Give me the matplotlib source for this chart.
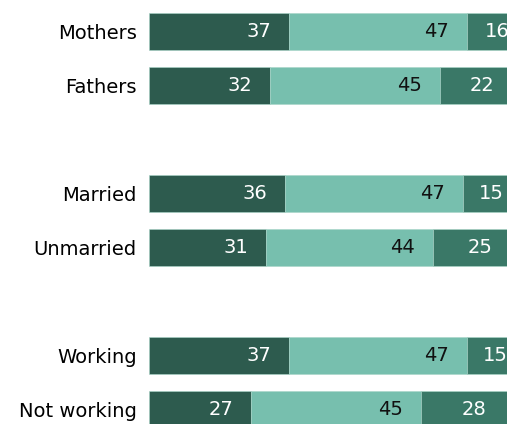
import matplotlib

matplotlib.use('Agg')
import matplotlib.pyplot as plt

categories = ["Mothers", "Fathers", "Married", "Unmarried", "Working", "Not working"]
# bar rows, with a blank slot between each pair
positions = [0, 1, 3, 4, 6, 7]
first = [37, 32, 36, 31, 37, 27]
second = [47, 45, 47, 44, 47, 45]
third = [16, 22, 15, 25, 15, 28]

colors = ["#2d5b4e", "#77bfae", "#3a7867"]
text_colors = ["white", "#111111", "white"]

plt.rcParams['font.family'] = ['DejaVu Sans']

fig = plt.figure(figsize=(5.07, 4.24), dpi=100)
ax = fig.add_axes([149 / 507, 0, 1 - 149 / 507, 1])

left = [0] * len(first)
for i, vals in enumerate([first, second, third]):
    ax.barh(positions, vals, left=left, height=0.685, color=colors[i],
            edgecolor="#a9d6c9", linewidth=0.4)
    for y, l, v in zip(positions, left, vals):
        if i < 2:
            x = l + v - 8
        else:
            x = l + v / 2
        ax.text(x, y, str(v), ha="center", va="center", fontsize=14,
                color=text_colors[i])
    left = [l + v for l, v in zip(left, vals)]

ax.set_xlim(0, (507 - 149) / 3.78)
ax.set_ylim(7 + 14.5 / 54, -31.5 / 54)
ax.set_yticks(positions)
ax.set_yticklabels(categories, fontsize=14)
ax.tick_params(axis="y", length=0, pad=9)
ax.set_xticks([])
for s in ax.spines.values():
    s.set_visible(False)

fig.savefig("out.png", dpi=100)
plt.close(fig)
